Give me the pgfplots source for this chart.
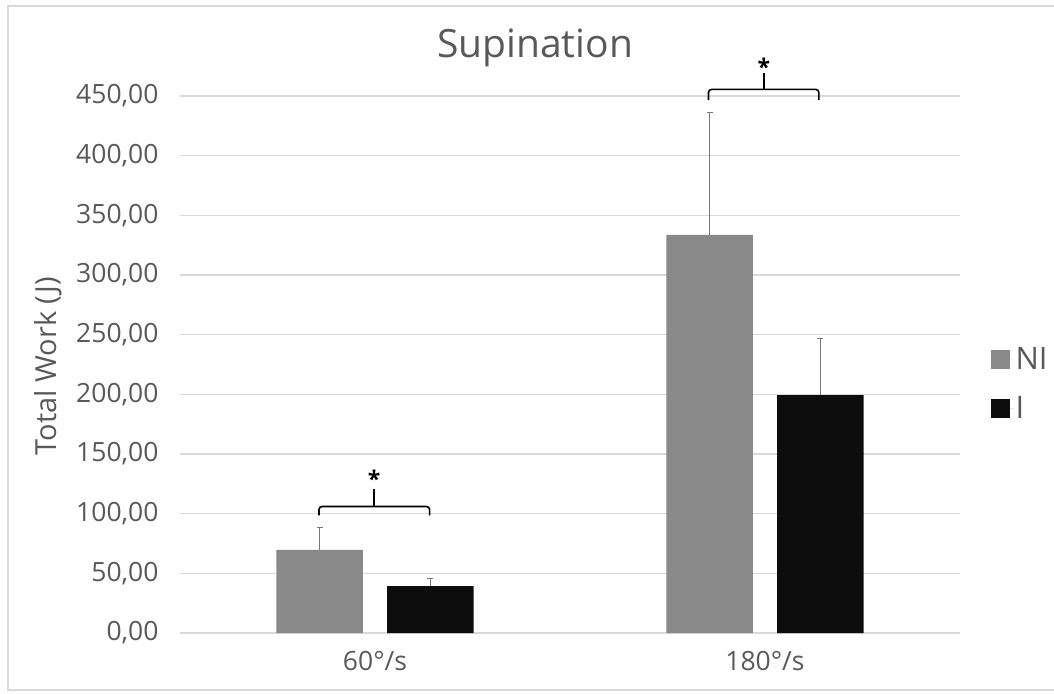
\documentclass[border=0pt]{standalone}
\usepackage{pgfplots}
\pgfplotsset{compat=1.18}
\usepackage{fontspec}
\setmainfont{Open Sans}
\definecolor{txt}{RGB}{89,89,89}
\definecolor{gridc}{RGB}{217,217,217}
\definecolor{nicol}{RGB}{137,137,137}
\definecolor{icol}{RGB}{13,13,13}
\definecolor{errc}{RGB}{120,120,120}
\begin{document}
\begin{tikzpicture}[x=1pt,y=1pt]
\useasboundingbox (0,0) rectangle (1054,-693);
\draw[gridc, line width=1.2pt] (1054,-6) -- (8,-6) -- (8,-690) -- (1054,-690);
\begin{axis}[
  at={(180pt,-633pt)}, anchor=south west,
  scale only axis, width=780pt, height=537pt,
  xmin=-0.5, xmax=1.5, ymin=0, ymax=450,
  xtick={0,1}, xticklabels={60°/s,180°/s},
  ytick={0,50,100,150,200,250,300,350,400,450},
  yticklabels={{0,00},{50,00},{100,00},{150,00},{200,00},{250,00},{300,00},{350,00},{400,00},{450,00}},
  ymajorgrids, grid style={gridc, line width=1.2pt},
  axis line style={draw=none}, major tick length=0pt,
  tick label style={font=\fontsize{26.5}{30}\selectfont, text=txt},
  yticklabel style={xshift=-18pt},
  xticklabel style={yshift=-15pt},
  ybar, bar width=0.222,
  clip=false,
  legend style={draw=none, fill=none, at={(1.035,0.464)}, anchor=west,
    font=\fontsize{31}{36}\selectfont, text=txt, row sep=22pt},
  legend cell align=left,
  legend image code/.code={\fill[#1] (0pt,-9.5pt) rectangle (19pt,9.5pt); \path (0pt,0pt) -- (23pt,0pt);},
]
\addplot[fill=nicol, draw=none, bar shift=-0.142,
  error bars/.cd, y dir=plus, y explicit,
  error bar style={errc, line width=0.9pt},
  error mark options={errc, rotate=90, mark size=3pt, line width=0.9pt}]
  coordinates {(0,69.7) +- (0,18.8) (1,333.6) +- (0,103.0)};
\addplot[fill=icol, draw=none, bar shift=0.142,
  error bars/.cd, y dir=plus, y explicit,
  error bar style={errc, line width=0.9pt},
  error mark options={errc, rotate=90, mark size=3pt, line width=0.9pt}]
  coordinates {(0,39.2) +- (0,6.4) (1,199.4) +- (0,47.6)};
\legend{NI,I}
% significance brackets
\draw[black, line width=1.6pt, rounded corners=3pt]
  (axis cs:-0.1436,98.5) -- (axis cs:-0.1436,106) -- (axis cs:0.140,106) -- (axis cs:0.140,98.5);
\draw[black, line width=1.6pt] (axis cs:-0.002,106) -- (axis cs:-0.002,121);
\node[anchor=north, inner sep=0pt, font=\bfseries\fontsize{23}{28}\selectfont] at (axis cs:-0.002,137) {*};
\draw[black, line width=1.6pt, rounded corners=3pt]
  (axis cs:0.855,446.5) -- (axis cs:0.855,455.5) -- (axis cs:1.138,455.5) -- (axis cs:1.138,446.5);
\draw[black, line width=1.6pt] (axis cs:0.997,455.5) -- (axis cs:0.997,469);
\node[anchor=north, inner sep=0pt, font=\bfseries\fontsize{23}{28}\selectfont] at (axis cs:0.997,482) {*};
\end{axis}
\node[anchor=base, font=\fontsize{39}{46}\selectfont, text=txt] at (535,-58) {Supination};
\node[anchor=base, rotate=90, font=\fontsize{29}{34}\selectfont, text=txt] at (56,-366) {Total Work (J)};
\end{tikzpicture}
\end{document}
